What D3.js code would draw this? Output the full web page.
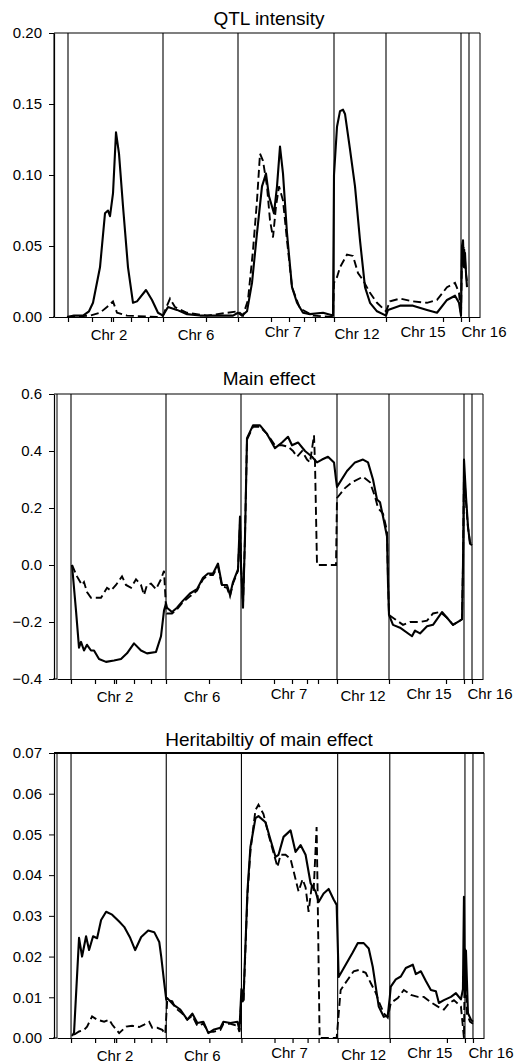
<!DOCTYPE html>
<html>
<head>
<meta charset="utf-8">
<script src="https://cdn.jsdelivr.net/npm/d3@7"></script>
<style>
  body { margin: 0; background: #fff; }
  svg { display: block; }
  text { font-family: "Liberation Sans", Arial, Helvetica, sans-serif; fill: #000; }
</style>
</head>
<body>
<div id="chart"></div>
<script>
// chromosome layout along the genome axis (cumulative cM)
const chrNames = ["Chr 2", "Chr 6", "Chr 7", "Chr 12", "Chr 15", "Chr 16"];
const chrBounds = [14, 109, 184, 280, 332, 407, 415];
const chrLabelPos = [58, 145, 232, 306, 372, 433];
const markerPos = [14, 38, 57, 59, 77, 94, 109, 152, 184, 217, 235, 250, 261, 280, 332, 389, 407, 415];
const genomeEnd = 426;

// y ticks
const qtlTicks = [0, 0.05, 0.10, 0.15, 0.20];
const mainTicks = [-0.4, -0.2, 0.0, 0.2, 0.4, 0.6];
const heritTicks = [0, 0.01, 0.02, 0.03, 0.04, 0.05, 0.06, 0.07];

// QTL intensity
const qtlSolid = [
  [13,0],[20,0.001],[29,0.001],[35,0.004],[39,0.010],[46,0.035],[51,0.073],[54,0.075],[56,0.071],
  [59,0.087],[62,0.130],[65,0.115],[69,0.078],[74,0.035],[79,0.010],[83,0.011],[92,0.019],[98,0.012],
  [104,0.003],[109,0.001],
  [114,0.007],[123,0.005],[133,0.002],[146,0.001],[165,0.001],[179,0.001],[184,0.003],[188,0.001],
  [193,0.004],[198,0.024],[203,0.059],[208,0.092],[212,0.101],[215,0.085],[220,0.073],[223,0.092],
  [226,0.120],[229,0.101],[233,0.059],[238,0.021],[243,0.010],[249,0.003],[256,0.002],[269,0.003],[279,0.001],
  [280,0.100],[283,0.134],[286,0.145],[289,0.146],[291,0.143],[296,0.118],[301,0.092],[306,0.054],
  [311,0.021],[316,0.010],[323,0.004],[332,0.001],
  [334,0.005],[346,0.008],[359,0.008],[373,0.005],[383,0.003],[393,0.012],[401,0.015],[405,0.010],[407,0.001],
  [408,0.050],[409,0.054],[410,0.035],[411,0.045],[412,0.031],[413,0.021]
];
const qtlDashed = [
  [13,0],[36,0.001],[46,0.003],[53,0.007],[59,0.011],[63,0.003],[73,0.001],[103,0],[109,0.001],
  [116,0.013],[121,0.007],[133,0.003],[153,0.001],[184,0.004],[189,0.001],
  [194,0.012],[199,0.047],[203,0.082],[206,0.115],[209,0.110],[213,0.092],[216,0.068],[219,0.056],
  [222,0.078],[225,0.092],[229,0.082],[233,0.054],[238,0.021],[246,0.006],[259,0.001],[279,0],
  [280,0.024],[283,0.028],[286,0.035],[293,0.044],[299,0.043],[304,0.031],[309,0.026],[316,0.017],
  [323,0.010],[332,0.004],
  [336,0.011],[346,0.013],[359,0.011],[373,0.010],[383,0.012],[393,0.021],[401,0.024],[405,0.017],[407,0.001],
  [408,0.045],[410,0.050],[412,0.030],[413,0.025]
];

// Main effect
const mainSolid = [
  [15,0.0],[19,-0.16],[22,-0.29],[24,-0.27],[27,-0.30],[30,-0.28],[34,-0.30],[37,-0.30],[42,-0.33],
  [49,-0.34],[57,-0.335],[64,-0.33],[70,-0.31],[77,-0.275],[84,-0.30],[90,-0.31],[99,-0.305],
  [104,-0.25],[107,-0.16],[109,-0.135],
  [110,-0.15],[115,-0.165],[120,-0.15],[126,-0.125],[133,-0.10],[140,-0.085],[146,-0.045],[151,-0.03],
  [156,-0.03],[161,0.005],[165,-0.07],[170,-0.07],[173,-0.105],[176,-0.06],[181,-0.015],[183,0.17],
  [184,0.0],[186,-0.15],[188,0.1],
  [190,0.445],[196,0.49],[203,0.49],[210,0.46],[218,0.41],[225,0.43],[231,0.45],[235,0.42],[241,0.43],
  [248,0.40],[255,0.38],[260,0.36],[265,0.37],[271,0.38],[277,0.36],[279,0.30],
  [280,0.274],[290,0.33],[298,0.36],[306,0.37],[311,0.36],[316,0.30],[320,0.23],[323,0.22],[326,0.17],
  [330,0.10],[331,-0.065],
  [332,-0.175],[336,-0.21],[343,-0.22],[355,-0.25],[358,-0.23],[363,-0.24],[370,-0.215],[376,-0.21],
  [385,-0.165],[390,-0.185],[396,-0.21],[403,-0.195],[405,-0.19],
  [406,0.0],[407,0.37],[409,0.24],[411,0.135],[413,0.075],[415,0.07]
];
const mainDashed = [
  [15,0.0],[20,-0.04],[25,-0.07],[27,-0.06],[30,-0.095],[34,-0.115],[44,-0.115],[50,-0.08],[54,-0.09],
  [59,-0.07],[65,-0.04],[69,-0.07],[74,-0.08],[79,-0.05],[84,-0.07],[87,-0.105],[90,-0.07],[94,-0.065],
  [99,-0.085],[104,-0.05],[107,-0.02],[109,-0.15],
  [110,-0.17],[115,-0.17],[120,-0.155],[126,-0.13],[133,-0.11],[140,-0.09],[146,-0.05],[151,-0.035],
  [156,-0.035],[161,-0.005],[165,-0.075],[170,-0.08],[173,-0.11],[176,-0.065],[181,-0.02],[183,0.15],
  [184,0.0],[186,-0.14],[188,0.1],
  [190,0.44],[196,0.485],[203,0.485],[210,0.46],[218,0.42],[225,0.42],[231,0.415],[236,0.40],[240,0.38],
  [245,0.40],[250,0.37],[253,0.36],[257,0.455],[258,0.36],[260,0.0],[279,0.0],
  [280,0.235],[288,0.27],[295,0.29],[306,0.31],[313,0.29],[318,0.24],[321,0.20],[326,0.18],[330,0.12],[331,-0.05],
  [332,-0.175],[338,-0.19],[346,-0.21],[353,-0.20],[363,-0.20],[370,-0.195],[376,-0.17],[383,-0.165],
  [390,-0.185],[396,-0.21],[403,-0.195],[405,-0.19],
  [406,0.0],[407,0.33],[409,0.22],[411,0.13],[413,0.08],[415,0.07]
];

// Heritability of main effect
const heritSolid = [
  [15,0.0005],[17,0.0013],[22,0.0246],[25,0.020],[29,0.025],[32,0.0216],[36,0.025],[40,0.0245],[44,0.029],
  [49,0.031],[55,0.0303],[62,0.0286],[67,0.0273],[73,0.0246],[78,0.0216],[84,0.0248],[91,0.0264],
  [97,0.026],[102,0.0236],[104,0.0199],[107,0.0135],[109,0.0094],
  [110,0.0098],[116,0.0082],[123,0.007],[130,0.0045],[135,0.006],[140,0.0037],[146,0.004],[151,0.0012],
  [156,0.002],[163,0.0025],[166,0.004],[173,0.0037],[180,0.004],[182,0.002],[184,0.012],[186,0.0094],
  [190,0.036],[193,0.047],[198,0.054],[201,0.0545],[208,0.053],[213,0.0487],[218,0.0445],[221,0.045],
  [226,0.0494],[233,0.051],[238,0.0457],[243,0.0474],[248,0.045],[253,0.038],[258,0.036],[261,0.0334],
  [266,0.0355],[271,0.0366],[276,0.034],[279,0.0327],
  [281,0.015],[288,0.018],[295,0.021],[300,0.0233],[306,0.0233],[311,0.022],[315,0.0175],[318,0.0126],
  [321,0.0077],[326,0.0052],[330,0.0055],[332,0.010],
  [333,0.0126],[338,0.0144],[343,0.0151],[348,0.0172],[355,0.018],[358,0.0157],[363,0.0164],[368,0.014],
  [373,0.0118],[378,0.0115],[381,0.0086],[386,0.0093],[393,0.0101],[398,0.011],[403,0.0095],[405,0.012],
  [406,0.0347],[407,0.010],[408,0.0215],[410,0.0061],[413,0.0045],[415,0.004]
];
const heritDashed = [
  [17,0.0008],[22,0.0016],[27,0.002],[30,0.0028],[35,0.0053],[40,0.0045],[47,0.004],[52,0.0045],
  [55,0.0033],[62,0.0012],[69,0.0028],[75,0.003],[82,0.0027],[87,0.0033],[92,0.004],[95,0.0025],
  [100,0.0025],[105,0.002],[108,0.001],
  [110,0.0094],[115,0.009],[118,0.0074],[125,0.006],[130,0.0045],[135,0.0055],[140,0.003],[146,0.0035],
  [151,0.0015],[156,0.0015],[163,0.002],[166,0.0035],[173,0.0035],[180,0.003],[182,0.0015],[184,0.010],[186,0.0085],
  [190,0.035],[193,0.046],[198,0.056],[201,0.0573],[206,0.055],[211,0.050],[216,0.0455],[220,0.042],
  [223,0.045],[228,0.045],[233,0.044],[238,0.039],[241,0.036],[245,0.039],[248,0.037],[251,0.031],
  [254,0.037],[256,0.036],[259,0.0518],[260,0.036],[262,0.0],[279,0.0],
  [283,0.0118],[290,0.0143],[296,0.0164],[301,0.0167],[308,0.016],[313,0.0135],[318,0.0111],[321,0.009],
  [326,0.0061],[330,0.005],
  [333,0.0086],[340,0.0098],[346,0.0118],[353,0.0106],[360,0.0101],[366,0.0101],[373,0.0088],[380,0.0077],
  [386,0.007],[391,0.0085],[396,0.0093],[403,0.0077],[406,0.0],
  [407,0.022],[409,0.006],[412,0.004],[415,0.0035]
];

const width = 514;
const height = 1064;

const panels = [
  { title: "QTL intensity", domain: [0, 0.20], ticks: qtlTicks, fmt: d3.format(".2f"),
    solid: qtlSolid, dashed: qtlDashed, topWidth: 1.2,
    left: 54, right: 480, top: 33, bottom: 317, axisX: 54, titleY: 25, labelShift: -3 },
  { title: "Main effect", domain: [-0.4, 0.6], ticks: mainTicks, fmt: d3.format(".1f"),
    solid: mainSolid, dashed: mainDashed, topWidth: 1.2,
    left: 57, right: 483, top: 394, bottom: 679, axisX: 54, titleY: 385, labelShift: 0 },
  { title: "Heritabiltiy of main effect", domain: [0, 0.07], ticks: heritTicks, fmt: d3.format(".2f"),
    solid: heritSolid, dashed: heritDashed, topWidth: 2,
    left: 57, right: 484, top: 753, bottom: 1038, axisX: 54, titleY: 746, labelShift: 0 }
];

// how far below the axis each chromosome label sits
const labelDrop = [23, 23, 20, 22, 20, 20];

const svg = d3.select("#chart").append("svg")
  .attr("width", width)
  .attr("height", height);

panels.forEach(p => {
  const x = d3.scaleLinear().domain([0, genomeEnd]).range([p.left, p.right]);
  const y = d3.scaleLinear().domain(p.domain).range([p.bottom, p.top]);
  const g = svg.append("g");

  // title
  g.append("text")
    .attr("x", 269)
    .attr("y", p.titleY)
    .attr("text-anchor", "middle")
    .style("font-size", "19px")
    .text(p.title);

  // frame: top and right, plus inner left edge
  g.append("line")
    .attr("x1", p.axisX).attr("x2", p.right)
    .attr("y1", p.top).attr("y2", p.top)
    .attr("stroke", "#000").attr("stroke-width", p.topWidth);
  g.append("line")
    .attr("x1", p.right).attr("x2", p.right)
    .attr("y1", p.top).attr("y2", p.bottom)
    .attr("stroke", "#000").attr("stroke-width", 1);
  g.append("line")
    .attr("x1", p.left).attr("x2", p.left)
    .attr("y1", p.top).attr("y2", p.bottom)
    .attr("stroke", "#000").attr("stroke-width", 1);

  // chromosome boundaries
  g.selectAll(".bound")
    .data(chrBounds)
    .enter().append("line")
    .attr("class", "bound")
    .attr("x1", d => x(d)).attr("x2", d => x(d))
    .attr("y1", p.top).attr("y2", p.bottom)
    .attr("stroke", "#000").attr("stroke-width", 1.1);

  // y axis
  const yAxis = d3.axisLeft(y)
    .tickValues(p.ticks)
    .tickFormat(p.fmt)
    .tickSize(5)
    .tickSizeOuter(0)
    .tickPadding(7);
  const ya = g.append("g")
    .attr("transform", `translate(${p.axisX},0)`)
    .call(yAxis);
  ya.select(".domain").attr("stroke-width", 1.2);
  ya.selectAll("text").style("font-size", "15px").style("font-family", '"Liberation Sans", Arial, sans-serif');

  // x axis with marker ticks
  const xAxis = d3.axisBottom(x)
    .tickValues(markerPos)
    .tickFormat("")
    .tickSize(5)
    .tickSizeOuter(0);
  const xa = g.append("g")
    .attr("transform", `translate(0,${p.bottom})`)
    .call(xAxis);
  xa.select(".domain").attr("stroke-width", 1.2);
  xa.selectAll(".tick line").attr("stroke-width", 1.2);
  g.append("line")
    .attr("x1", p.axisX - 1).attr("x2", p.left)
    .attr("y1", p.bottom).attr("y2", p.bottom)
    .attr("stroke", "#000").attr("stroke-width", 1.2);

  // chromosome labels
  g.selectAll(".chr")
    .data(chrNames)
    .enter().append("text")
    .attr("class", "chr")
    .attr("x", (d, i) => x(chrLabelPos[i]) + p.labelShift)
    .attr("y", (d, i) => p.bottom + labelDrop[i])
    .attr("text-anchor", "middle")
    .style("font-size", "15px")
    .text(d => d);

  const line = d3.line()
    .x(d => x(d[0]))
    .y(d => y(d[1]));

  g.append("path")
    .attr("d", line(p.dashed))
    .attr("fill", "none")
    .attr("stroke", "#000")
    .attr("stroke-width", 1.9)
    .attr("stroke-dasharray", "8,4");

  g.append("path")
    .attr("d", line(p.solid))
    .attr("fill", "none")
    .attr("stroke", "#000")
    .attr("stroke-width", 2.1)
    .attr("stroke-linejoin", "round");
});
</script>
</body>
</html>
